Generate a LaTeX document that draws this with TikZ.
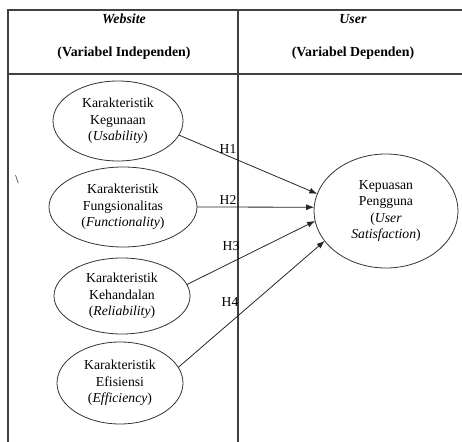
\documentclass[tikz,border=0pt]{standalone}
\usepackage{fontspec}
\setmainfont{Liberation Serif}
\usetikzlibrary{shapes.geometric,arrows.meta}
\begin{document}
\begin{tikzpicture}[x=0.75pt,y=-0.75pt,
  tbl/.style={draw=black!75,line width=0.8pt},
  var/.style={draw=black!80,ellipse,line width=0.6pt,inner sep=0pt,outer sep=0pt,align=center,
    font=\fontsize{10.3}{12.4}\selectfont},
  hdr/.style={anchor=base,inner sep=0pt,font=\fontsize{10.4}{12.4}\selectfont\bfseries},
  arr/.style={draw=black!85,line width=0.6pt,-{Latex[length=6pt,width=4.5pt]}},
  hlab/.style={inner sep=0pt,font=\fontsize{10.2}{12}\selectfont}]
\useasboundingbox (0,0) rectangle (462,442);
% table
\coordinate (tl) at (8,10);
\coordinate (tr) at (462,10);
\coordinate (tm) at (238,10);
\coordinate (bl) at (8,442);
\coordinate (bm) at (238,442);
\coordinate (hl) at (8,74);
\coordinate (hr) at (462,74);
\draw[tbl] (tr) -- (tl) -- (bl);
\draw[tbl] (tm) -- (bm);
\draw[tbl] (hl) -- (hr);
% headers
\node[hdr] (h1) at (124,24) {\textit{Website}};
\node[hdr] (h2) at (124,57) {(Variabel Independen)};
\node[hdr] (h3) at (353,24) {\textit{User}};
\node[hdr] (h4) at (353,57) {(Variabel Dependen)};
% stray mark
\node[inner sep=0pt,font=\fontsize{9}{10}\selectfont] (bs) at (17,180) {\textbackslash};
% variables
\node[var,minimum width=130*0.75pt,minimum height=80*0.75pt] (e1) at (118,121)
  {Karakteristik\\Kegunaan\\(\textit{Usability})};
\node[var,minimum width=148*0.75pt,minimum height=80*0.75pt] (e2) at (123,207)
  {Karakteristik\\Fungsionalitas\\(\textit{Functionality})};
\node[var,minimum width=136*0.75pt,minimum height=76*0.75pt] (e3) at (122,296)
  {Karakteristik\\Kehandalan\\(\textit{Reliability})};
\node[var,minimum width=126*0.75pt,minimum height=82*0.75pt] (e4) at (120,383)
  {Karakteristik\\Efisiensi\\(\textit{Efficiency})};
\node[var,minimum width=144*0.75pt,minimum height=114*0.75pt] (k) at (386,211)
  {Kepuasan\\Pengguna\\(\textit{User}\\\textit{Satisfaction})};
% arrows
\draw[arr] (e1.-13) -- (k.166);
\draw[arr] (e2.east) -- (k.177);
\draw[arr] (e3.10) -- (k.188);
\draw[arr] (e4.15) -- (k.206);
% labels
\node[hlab] (l1) at (228,149) {H1};
\node[hlab] (l2) at (228,200) {H2};
\node[hlab] (l3) at (231,246) {H3};
\node[hlab] (l4) at (230,302) {H4};
\end{tikzpicture}
\end{document}
